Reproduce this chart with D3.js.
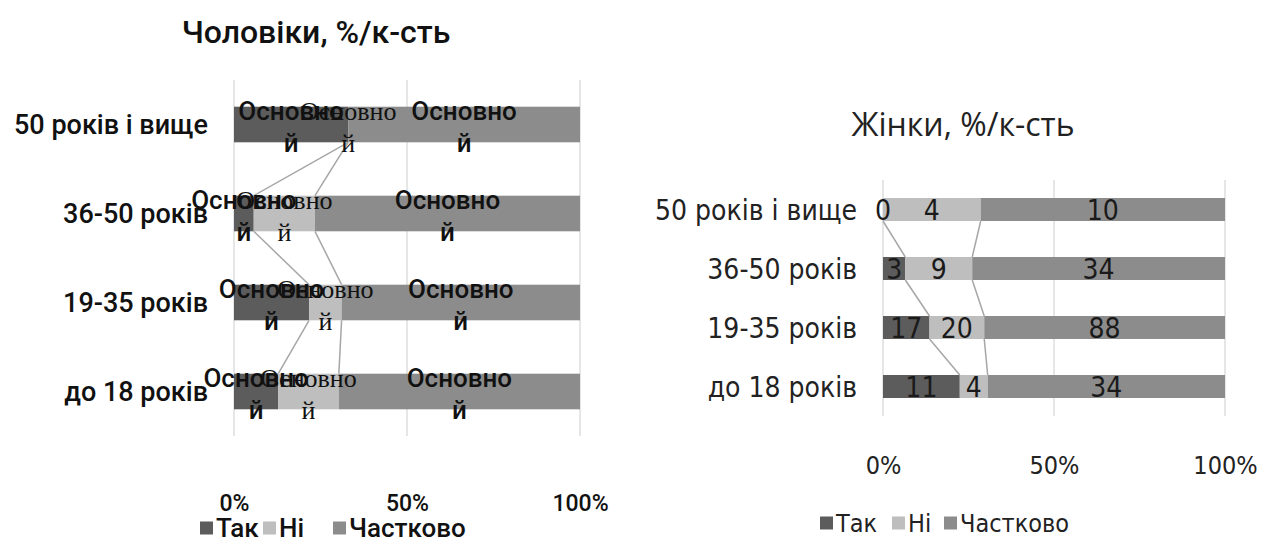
<!DOCTYPE html>
<html>
<head>
<meta charset="utf-8">
<script src="https://cdn.jsdelivr.net/npm/d3@7"></script>
<style>
  body { margin: 0; background: #fff; }
</style>
</head>
<body>
<svg id="chart" width="1266" height="541"></svg>
<script>
// categories, top to bottom
const categories = ['50 років і вище', '36-50 років', '19-35 років', 'до 18 років']
const seriesNames = ['Так', 'Ні', 'Частково']
const colors = ['#5c5c5c', '#bebebe', '#8c8c8c']

// men, % (labels in the source are broken)
const menTak = [33, 5.7, 21.7, 12.8]
const menNi = [0, 17.7, 9.4, 17.5]
const menPartial = [67, 76.6, 68.9, 69.7]
const menLabelLines = ['Основно', 'й']

// women, count
const womenTak = [0, 3, 17, 11]
const womenNi = [4, 9, 20, 4]
const womenPartial = [10, 34, 88, 34]

const tickValues = [0, 0.5, 1]
const tickLabels = ['0%', '50%', '100%']

const svg = d3.select('#chart')

function drawChart(cfg) {
  const rows = categories.map((c, i) => {
    const vals = [cfg.tak[i], cfg.ni[i], cfg.partial[i]]
    const total = d3.sum(vals)
    let acc = 0
    const segs = vals.map((v, k) => {
      const s = { k, v, x0: acc / total, x1: (acc + v) / total }
      acc += v
      return s
    })
    return { cat: c, segs }
  })

  const x = d3.scaleLinear().domain([0, 1]).range(cfg.xRange)
  const y = d3.scaleBand().domain(categories).range(cfg.yRange)
    .paddingInner(cfg.padIn).paddingOuter(cfg.padIn / 2)

  const g = svg.append('g')

  // title
  g.append('text')
    .attr('x', cfg.titleX).attr('y', cfg.titleY)
    .attr('text-anchor', 'middle')
    .style('font-family', cfg.titleFont)
    .style('font-weight', cfg.titleWeight)
    .style('font-size', cfg.titleSize + 'px')
    .attr('fill', cfg.titleColor)
    .text(cfg.title)

  // gridlines
  g.append('g')
    .selectAll('line')
    .data(tickValues)
    .enter()
    .append('line')
    .attr('x1', (d) => x(d)).attr('x2', (d) => x(d))
    .attr('y1', cfg.yRange[0]).attr('y2', cfg.yRange[1])
    .attr('stroke', '#d9d9d9').attr('stroke-width', 1.3)

  // x axis labels
  const ax = g.append('g')
    .attr('transform', `translate(0, ${cfg.axisY})`)
    .call(d3.axisBottom(x).tickValues(tickValues).tickSize(0).tickFormat((d, i) => tickLabels[i]))
  ax.select('.domain').remove()
  ax.selectAll('text')
    .attr('dy', 0).attr('y', 0)
    .style('font-family', cfg.font)
    .style('font-weight', cfg.weight)
    .style('font-size', cfg.axisSize + 'px')
    .attr('fill', cfg.textColor)

  // y axis labels
  const ay = g.append('g')
    .attr('transform', `translate(${cfg.catX}, 0)`)
    .call(d3.axisLeft(y).tickSize(0).tickPadding(0))
  ay.select('.domain').remove()
  ay.selectAll('text')
    .attr('dy', '0.36em')
    .style('font-family', cfg.font)
    .style('font-weight', cfg.weight)
    .style('font-size', cfg.catSize + 'px')
    .attr('fill', cfg.textColor)

  // bars
  const bars = g.append('g')
  rows.forEach((r) => {
    bars.selectAll(null)
      .data(r.segs)
      .enter()
      .append('rect')
      .attr('x', (d) => x(d.x0))
      .attr('y', y(r.cat))
      .attr('width', (d) => x(d.x1) - x(d.x0))
      .attr('height', y.bandwidth())
      .attr('fill', (d) => colors[d.k])
  })

  // series lines between bars
  const lines = g.append('g')
  for (let i = 0; i < rows.length - 1; i++) {
    for (let k = 0; k < 2; k++) {
      lines.append('line')
        .attr('x1', x(rows[i].segs[k].x1))
        .attr('y1', y(rows[i].cat) + y.bandwidth())
        .attr('x2', x(rows[i + 1].segs[k].x1))
        .attr('y2', y(rows[i + 1].cat))
        .attr('stroke', '#a6a6a6').attr('stroke-width', 1.5)
    }
  }

  // labels
  cfg.drawLabels(g, rows, x, y)

  // legend
  const lg = g.append('g').attr('transform', `translate(0, ${cfg.legendY})`)
  seriesNames.forEach((s, k) => {
    lg.append('rect')
      .attr('x', cfg.legendX[k]).attr('y', -cfg.legendBox / 2)
      .attr('width', cfg.legendBox).attr('height', cfg.legendBox)
      .attr('fill', colors[k])
    lg.append('text')
      .attr('x', cfg.legendX[k] + cfg.legendBox + 3).attr('y', 0)
      .attr('dy', '0.36em')
      .style('font-family', cfg.font)
      .style('font-weight', cfg.weight)
      .style('font-size', cfg.legendSize + 'px')
      .attr('fill', cfg.textColor)
      .text(s)
  })
}

// men chart
drawChart({
  title: 'Чоловіки, %/к-сть',
  titleX: 316, titleY: 43, titleSize: 32, titleWeight: 500,
  titleFont: 'Roboto, sans-serif', titleColor: '#111',
  tak: menTak, ni: menNi, partial: menPartial,
  xRange: [234, 580], yRange: [80, 436], padIn: 0.6,
  font: 'Roboto, sans-serif', weight: 500, textColor: '#111',
  catX: 208, catSize: 27, axisY: 511, axisSize: 23,
  legendY: 528, legendX: [200, 263, 333], legendBox: 13, legendSize: 26,
  drawLabels: (g, rows, x, y) => {
    rows.forEach((r) => {
      r.segs.forEach((s) => {
        const serif = s.k === 1
        const t = g.append('text')
          .attr('text-anchor', 'middle')
          .style('font-family', serif ? 'Liberation Serif, serif' : 'Roboto, sans-serif')
          .style('font-weight', serif ? 400 : 500)
          .style('font-size', serif ? '26px' : '26px')
          .attr('fill', '#111')
        const cx = x((s.x0 + s.x1) / 2)
        const cy = y(r.cat) + y.bandwidth() / 2
        menLabelLines.forEach((ln, j) => {
          t.append('tspan')
            .attr('x', cx)
            .attr('y', cy + (j === 0 ? -5 : 27))
            .text(ln)
        })
      })
    })
  }
})

// women chart
drawChart({
  title: 'Жінки, %/к-сть',
  titleX: 963, titleY: 136, titleSize: 32, titleWeight: 400,
  titleFont: 'Open Sans, sans-serif', titleColor: '#222',
  tak: womenTak, ni: womenNi, partial: womenPartial,
  xRange: [883, 1225], yRange: [180, 416], padIn: 0.61,
  font: 'Liberation Sans Narrow, DejaVu Sans Condensed, sans-serif', weight: 400, textColor: '#222',
  catX: 857, catSize: 28, axisY: 474, axisSize: 25,
  legendY: 523, legendX: [820, 892, 944], legendBox: 13, legendSize: 25,
  drawLabels: (g, rows, x, y) => {
    rows.forEach((r) => {
      g.selectAll(null)
        .data(r.segs)
        .enter()
        .append('text')
        .attr('x', (s) => x((s.x0 + s.x1) / 2))
        .attr('y', y(r.cat) + y.bandwidth() / 2)
        .attr('dy', '0.36em')
        .attr('text-anchor', 'middle')
        .style('font-family', 'Liberation Sans Narrow, DejaVu Sans Condensed, sans-serif')
        .style('font-size', '28px')
        .attr('fill', '#1a1a1a')
        .text((s) => s.v)
    })
  }
})
</script>
</body>
</html>
